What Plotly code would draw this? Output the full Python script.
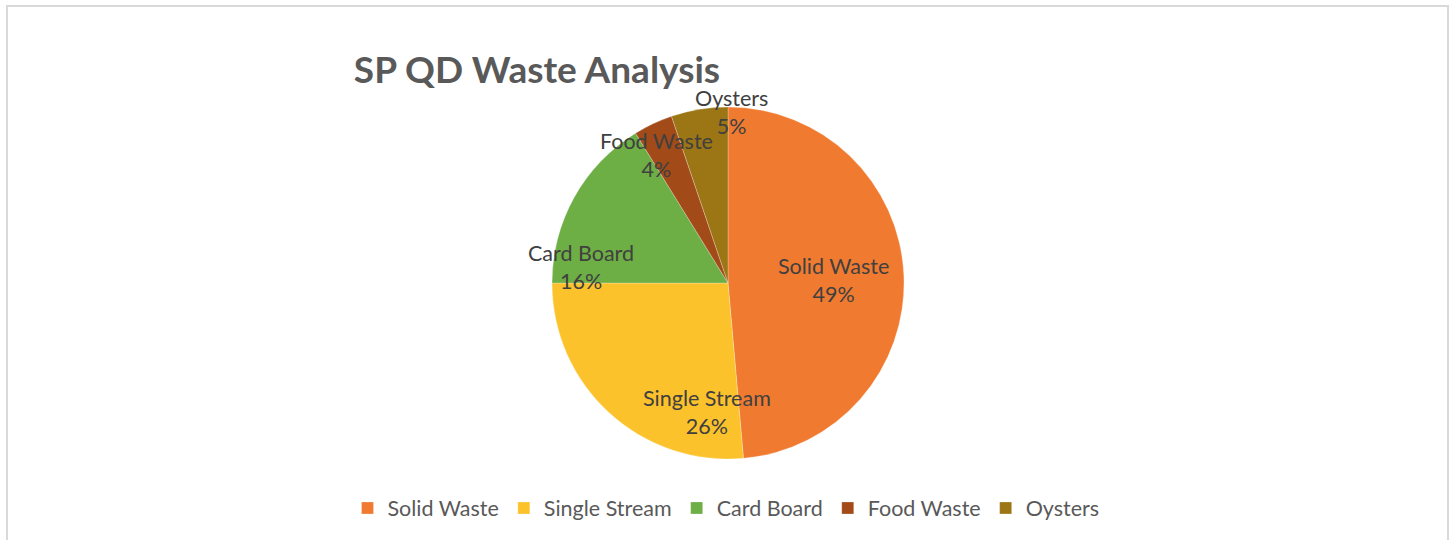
import plotly.graph_objects as go

categories = ["Solid Waste", "Single Stream", "Card Board", "Food Waste", "Oysters"]
values = [48.6, 26.4, 16.2, 3.6, 5.2]

# style
colors = ["#F07B30", "#FCC22C", "#6DAE45", "#A24A18", "#9C7514"]
W, H = 1455, 540
CX, CY, R = 728, 283, 176
# label block centres in pixels (Excel "best fit" placement)
label_px = [(833, 280), (707, 412), (581, 267), (656, 155), (731, 112)]
FONT = "Lato"

total = sum(values)

fig = go.Figure()
fig.add_trace(go.Pie(
    labels=categories,
    values=values,
    sort=False,
    direction="clockwise",
    rotation=0,
    marker=dict(colors=colors, line=dict(color="rgba(255,255,255,0.5)", width=0.5)),
    textinfo="none",
    hoverinfo="label+percent",
    domain=dict(x=[(CX - R) / W, (CX + R) / W], y=[1 - (CY + R) / H, 1 - (CY - R) / H]),
))

annotations = []
for cat, v, (px, py) in zip(categories, values, label_px):
    annotations.append(dict(
        text=f"{cat}<br>{round(v / total * 100)}%",
        x=px / W, y=1 - py / H, xref="paper", yref="paper",
        xanchor="center", yanchor="middle", showarrow=False, align="center",
        font=dict(family=FONT, size=21.5, color="#404040"),
    ))

fig.update_layout(
    width=W,
    height=H,
    margin=dict(l=0, r=0, t=0, b=0),
    paper_bgcolor="white",
    plot_bgcolor="white",
    title=dict(
        text="<b>SP QD Waste Analysis</b>",
        x=537 / W, xanchor="center",
        y=1 - 70 / H, yanchor="middle",
        font=dict(family=FONT, size=37, color="#595959"),
    ),
    legend=dict(
        orientation="h",
        x=726 / W, xanchor="center",
        y=1 - 508 / H, yanchor="middle",
        font=dict(family=FONT, size=21.5, color="#595959"),
        traceorder="normal",
        itemwidth=30,
    ),
    annotations=annotations,
    shapes=[dict(
        type="rect", xref="paper", yref="paper",
        x0=7 / W, x1=1448 / W, y0=-0.2, y1=1 - 6 / H,
        line=dict(color="#D9D9D9", width=2), fillcolor="rgba(0,0,0,0)", layer="below",
    )],
)

fig.write_html("out.html", config={"displayModeBar": False},
               post_script="document.body.style.margin='0';")
